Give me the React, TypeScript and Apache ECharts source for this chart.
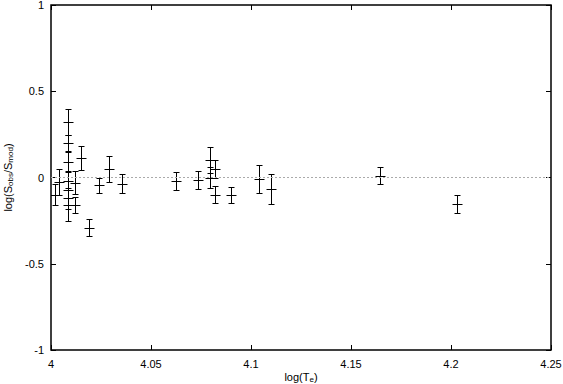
import React, { useEffect, useRef } from "react";
import * as echarts from "echarts";

// log(Te) positions
const logTe = [
  4.0021, 4.0042, 4.0086, 4.0086, 4.0086, 4.0086, 4.0086, 4.0086, 4.0086,
  4.0122, 4.0122, 4.0151, 4.0192, 4.024, 4.0289, 4.0357, 4.0625, 4.0736,
  4.0796, 4.0796, 4.082, 4.082, 4.0899, 4.104, 4.11, 4.1643, 4.2028,
];
// log(S_obs/S_mod)
const logRatio = [
  -0.1, -0.025, 0.32, 0.2, 0.09, -0.02, -0.07, -0.12, -0.16,
  -0.03, -0.16, 0.115, -0.29, -0.045, 0.05, -0.035, -0.02, -0.015,
  0.1, 0.0, 0.05, -0.1, -0.1, -0.01, -0.065, 0.01, -0.152,
];
// symmetric error
const errY = [
  0.06, 0.075, 0.075, 0.045, 0.055, 0.05, 0.05, 0.06, 0.09,
  0.065, 0.045, 0.07, 0.047, 0.045, 0.075, 0.055, 0.052, 0.05,
  0.075, 0.06, 0.05, 0.05, 0.045, 0.08, 0.087, 0.05, 0.052,
];

const xTicks = [4, 4.05, 4.1, 4.15, 4.2, 4.25];
const yTicks = [-1, -0.5, 0, 0.5, 1];

const FONT = "'Liberation Sans', Arial, Helvetica, sans-serif";

export default function App() {
  const ref = useRef<HTMLDivElement>(null);

  useEffect(() => {
    if (!ref.current) return;
    const chart = echarts.init(ref.current, null, { renderer: "svg" });
    const data = logTe.map((x, i) => [x, logRatio[i], errY[i]]);

    const tickCommon = {
      show: true,
      inside: true,
      length: 5,
      lineStyle: { color: "#000", width: 1 },
    };
    const lineOff = { show: false, onZero: false };

    const option: any = {
      animation: false,
      backgroundColor: "#fff",
      textStyle: { fontFamily: FONT },
      grid: {
        left: 51,
        right: 12,
        top: 5,
        bottom: 34,
        containLabel: false,
        outerBoundsMode: "none",
        show: true,
        borderColor: "#000",
        borderWidth: 1.5,
        backgroundColor: "transparent",
      },
      xAxis: [
        {
          type: "value",
          min: xTicks[0],
          max: xTicks[xTicks.length - 1],
          interval: 0.05,
          position: "bottom",
          axisLine: lineOff,
          axisTick: tickCommon,
          splitLine: { show: false },
          axisLabel: {
            color: "#000",
            fontSize: 11,
            fontFamily: FONT,
            margin: 8,
            formatter: (v: number) => String(+v.toFixed(2)),
          },
          name: "{b|log(T}{s|e}{b|)}",
          nameLocation: "middle",
          nameGap: 21,
          nameMoveOverlap: false,
          nameTextStyle: {
            rich: {
              b: { fontSize: 11, fontFamily: FONT, color: "#000" },
              s: { fontSize: 8, fontFamily: FONT, color: "#000", padding: [4, 0, 0, 0] },
            },
          },
        },
        {
          type: "value",
          min: xTicks[0],
          max: xTicks[xTicks.length - 1],
          interval: 0.05,
          position: "top",
          axisLine: lineOff,
          axisTick: tickCommon,
          splitLine: { show: false },
          axisLabel: { show: false },
        },
      ],
      yAxis: [
        {
          type: "value",
          min: yTicks[0],
          max: yTicks[yTicks.length - 1],
          interval: 0.5,
          position: "left",
          axisLine: lineOff,
          axisTick: tickCommon,
          splitLine: { show: false },
          axisLabel: {
            color: "#000",
            fontSize: 11,
            fontFamily: FONT,
            margin: 7,
            formatter: (v: number) => String(+v.toFixed(2)),
          },
          name: "{b|log(S}{s|obs}{b|/S}{s|mod}{b|)}",
          nameLocation: "middle",
          nameRotate: 90,
          nameGap: 37,
          nameTextStyle: {
            rich: {
              b: { fontSize: 11, fontFamily: FONT, color: "#000" },
              s: { fontSize: 8, fontFamily: FONT, color: "#000", padding: [5, 0, 0, 0] },
            },
          },
        },
        {
          type: "value",
          min: yTicks[0],
          max: yTicks[yTicks.length - 1],
          interval: 0.5,
          position: "right",
          axisLine: lineOff,
          axisTick: tickCommon,
          splitLine: { show: false },
          axisLabel: { show: false },
        },
      ],
      series: [
        {
          type: "custom",
          xAxisIndex: 0,
          yAxisIndex: 0,
          data,
          clip: true,
          renderItem: (params: any, api: any) => {
            const x = api.value(0);
            const y = api.value(1);
            const e = api.value(2);
            const c = api.coord([x, y]);
            const hi = api.coord([x, y + e]);
            const lo = api.coord([x, y - e]);
            const px = Math.round(c[0]) + 0.5;
            const py = Math.round(c[1]) + 0.5;
            const pHi = Math.round(hi[1]) + 0.5;
            const pLo = Math.round(lo[1]) + 0.5;
            const st = { stroke: "#000", lineWidth: 1 };
            const cap = 3;
            const arm = 5;
            return {
              type: "group",
              children: [
                { type: "line", shape: { x1: px, y1: pHi, x2: px, y2: pLo }, style: st },
                { type: "line", shape: { x1: px - cap, y1: pHi, x2: px + cap, y2: pHi }, style: st },
                { type: "line", shape: { x1: px - cap, y1: pLo, x2: px + cap, y2: pLo }, style: st },
                { type: "line", shape: { x1: px - arm, y1: py, x2: px + arm, y2: py }, style: st },
                { type: "line", shape: { x1: px, y1: py - arm, x2: px, y2: py + arm }, style: st },
              ],
            };
          },
          markLine: {
            silent: true,
            symbol: "none",
            label: { show: false },
            lineStyle: { color: "#aaa", width: 1, type: [2, 2] },
            data: [{ yAxis: 0 }],
          },
          z: 3,
        },
      ],
    };

    chart.setOption(option);
    return () => chart.dispose();
  }, []);

  return (
    <div
      ref={ref}
      style={{ position: "fixed", left: 0, top: 0, width: 563, height: 384, background: "#fff" }}
    />
  );
}
